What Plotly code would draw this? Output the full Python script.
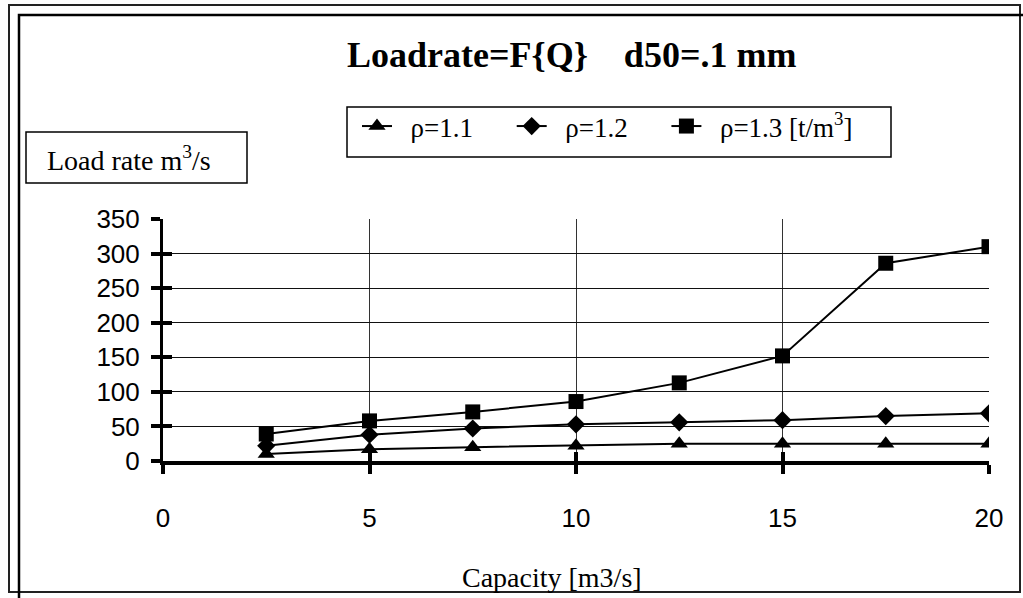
import plotly.graph_objects as go

W, H = 1023, 598

capacity = [2.5, 5, 7.5, 10, 12.5, 15, 17.5, 20]
rho_11 = [10, 17, 20, 22, 25, 25, 25, 25]
rho_12 = [22, 38, 47, 53, 56, 59, 65, 69]
rho_13 = [39, 58, 71, 86, 113, 152, 286, 310]

NB = "\u00a0"
series_names = [NB * 2 + "ρ=1.1" + NB * 5, NB * 2 + "ρ=1.2" + NB * 5, NB * 2 + "ρ=1.3 [t/m<sup>3</sup>]"]
series_values = [rho_11, rho_12, rho_13]
series_symbols = ["triangle-up", "diamond", "square"]
series_sizes = [15, 14, 15]

x_ticks = [0, 5, 10, 15, 20]
y_ticks = [0, 50, 100, 150, 200, 250, 300, 350]

title_text = "Loadrate=F{Q}" + NB * 3 + " d50=.1 mm"
x_title = "Capacity [m3/s]"
y_title = "Load rate m<sup>3</sup>/s"


def px(x):
    return x / W


def py(y):
    return 1 - y / H


SERIF = "Liberation Serif, Times New Roman, serif"
SANS = "Liberation Sans, Arial, sans-serif"

fig = go.Figure()
for name, vals, sym, sz in zip(series_names, series_values, series_symbols, series_sizes):
    fig.add_trace(go.Scatter(
        x=capacity, y=vals, name=name, mode="lines+markers",
        line=dict(color="black", width=2),
        marker=dict(symbol=sym, size=sz, color="black"),
    ))

# invisible trace carrying the overlay axes (inside half of the crossing ticks)
fig.add_trace(go.Scatter(x=capacity, y=rho_11, mode="none", xaxis="x2", yaxis="y2",
                         showlegend=False, hoverinfo="skip"))

xdom = [px(163), px(989)]
ydom = [py(461), py(219)]

axis_common = dict(showline=True, linecolor="black", zeroline=False, automargin=False,
                   ticks="outside", tickcolor="black", ticklen=9, tickwidth=4)

fig.update_layout(
    width=W, height=H,
    margin=dict(l=0, r=0, t=0, b=0, autoexpand=False),
    paper_bgcolor="white", plot_bgcolor="white",
    showlegend=True,
    legend=dict(orientation="h", x=px(357), y=py(102), xanchor="left", yanchor="top",
                font=dict(family=SERIF, size=27, color="black"),
                bgcolor="rgba(0,0,0,0)", borderwidth=0, tracegroupgap=0),
    xaxis=dict(domain=xdom, range=[0, 20], tickvals=x_ticks,
               showgrid=True, gridcolor="#333", gridwidth=1, linewidth=4,
               tickfont=dict(family=SANS, size=26, color="black"),
               ticklabelstandoff=22, anchor="y", **axis_common),
    yaxis=dict(domain=ydom, range=[0, 350], tickvals=y_ticks,
               showgrid=True, gridcolor="#111", gridwidth=1, linewidth=3,
               tickfont=dict(family=SANS, size=26, color="black"),
               ticklabelstandoff=6, anchor="x", **axis_common),
    xaxis2=dict(domain=xdom, range=[0, 20], tickvals=x_ticks, overlaying="x", anchor="y",
                side="bottom", showgrid=False, showline=False, zeroline=False, automargin=False,
                ticks="inside", ticklen=9, tickwidth=4, tickcolor="black",
                showticklabels=False),
    yaxis2=dict(domain=ydom, range=[0, 350], tickvals=y_ticks, overlaying="y", anchor="x",
                side="left", showgrid=False, showline=False, zeroline=False, automargin=False,
                ticks="inside", ticklen=9, tickwidth=4, tickcolor="black",
                showticklabels=False),
    annotations=[
        dict(text="<b>" + title_text + "</b>", x=px(571), y=py(55), xref="paper", yref="paper",
             showarrow=False, xanchor="center", yanchor="middle",
             font=dict(family=SERIF, size=36, color="black")),
        dict(text=x_title, x=px(552), y=py(577), xref="paper", yref="paper",
             showarrow=False, xanchor="center", yanchor="middle",
             font=dict(family=SERIF, size=28, color="black")),
        dict(text=y_title, x=px(129), y=py(158), xref="paper", yref="paper",
             showarrow=False, xanchor="center", yanchor="middle",
             font=dict(family=SERIF, size=28, color="black")),
    ],
    shapes=[
        # outer frame
        dict(type="rect", xref="paper", yref="paper", x0=px(9), y0=py(5), x1=px(1020), y1=py(592),
             line=dict(color="#222", width=2)),
        # inner frame (extends past the page)
        dict(type="rect", xref="paper", yref="paper", x0=px(19), y0=py(15), x1=px(1040), y1=py(620),
             line=dict(color="black", width=2.5)),
        # y title box
        dict(type="rect", xref="paper", yref="paper", x0=px(26), y0=py(132), x1=px(247), y1=py(183),
             line=dict(color="black", width=1.5)),
        # legend box
        dict(type="rect", xref="paper", yref="paper", x0=px(347), y0=py(107), x1=px(891), y1=py(157),
             line=dict(color="black", width=1.5)),
    ],
)

fig.write_html("out.html", config={"displayModeBar": False},
               post_script="document.body.style.margin='0';document.body.style.overflow='hidden';")
